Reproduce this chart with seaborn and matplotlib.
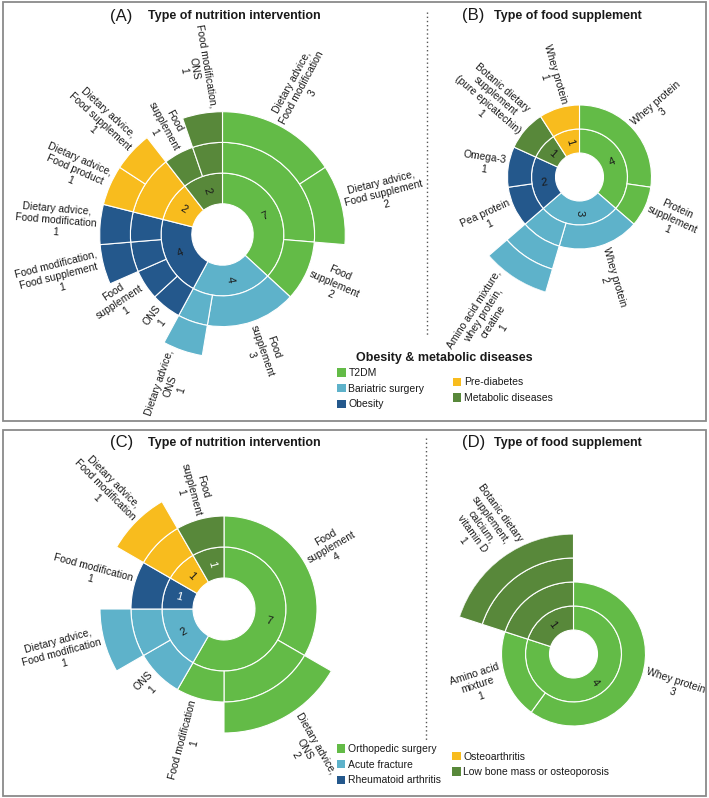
import numpy as np
import matplotlib
matplotlib.use("Agg")
import matplotlib.pyplot as plt
from matplotlib.patches import Rectangle, Patch
from matplotlib.lines import Line2D
import seaborn as sns

sns.set_theme(style="white")
plt.rcParams['font.family'] = ['Liberation Sans', 'DejaVu Sans']

W, H = 709, 798

# colours of the five groups (same order in both halves)
green, light_blue, dark_blue, yellow, dark_green = sns.color_palette(
    ["#63bb47", "#5eb2ca", "#24588c", "#f8bc1e", "#58883a"])

# ---- (A) type of nutrition intervention, obesity & metabolic diseases
a_disease = ["T2DM", "T2DM", "T2DM", "Bariatric surgery", "Bariatric surgery",
             "Obesity", "Obesity", "Obesity", "Obesity",
             "Pre-diabetes", "Pre-diabetes", "Metabolic diseases", "Metabolic diseases"]
a_path = [("Dietary advice", "Food modification"), ("Dietary advice", "Food supplement"),
          ("Food supplement",), ("Food supplement",), ("Dietary advice", "ONS"),
          ("ONS",), ("Food supplement",), ("Food modification", "Food supplement"),
          ("Dietary advice", "Food modification"),
          ("Dietary advice", "Food product"), ("Dietary advice", "Food supplement"),
          ("Food supplement",), ("Food modification", "ONS")]
a_count = [3, 2, 2, 3, 1, 1, 1, 1, 1, 1, 1, 1, 1]
a_label = ["Dietary advice,\nFood modification\n3", "Dietary advice,\nFood supplement\n2",
           "Food\nsupplement\n2", "Food\nsupplement\n3", "Dietary advice,\nONS\n1",
           "ONS\n1", "Food\nsupplement\n1", "Food modification,\nFood supplement\n1",
           "Dietary advice,\nFood modification\n1",
           "Dietary advice,\nFood product\n1", "Dietary advice,\nFood supplement\n1",
           "Food\nsupplement\n1", "Food modification,\nONS\n1"]

# ---- (B) type of food supplement, obesity & metabolic diseases
b_disease = ["T2DM", "T2DM", "Bariatric surgery", "Bariatric surgery", "Obesity", "Obesity",
             "Metabolic diseases", "Pre-diabetes"]
b_path = [("Whey protein",), ("Protein supplement",), ("Whey protein",),
          ("Amino acid mixture", "whey protein", "creatine"), ("Pea protein",), ("Omega-3",),
          ("Botanic dietary supplement",), ("Whey protein",)]
b_count = [3, 1, 2, 1, 1, 1, 1, 1]
b_label = ["Whey protein\n3", "Protein\nsupplement\n1", "Whey protein\n2",
           "Amino acid mixture,\nwhey protein,\ncreatine\n1", "Pea protein\n1", "Omega-3\n1",
           "Botanic dietary\nsupplement\n(pure epicatechin)\n1", "Whey protein\n1"]

# ---- (C) type of nutrition intervention, musculoskeletal
c_disease = ["Orthopedic surgery", "Orthopedic surgery", "Orthopedic surgery",
             "Acute fracture", "Acute fracture", "Rheumatoid arthritis", "Osteoarthritis",
             "Low bone mass or osteoporosis"]
c_path = [("Food supplement",), ("Dietary advice", "ONS"), ("Food modification",),
          ("ONS",), ("Dietary advice", "Food modification"), ("Food modification",),
          ("Dietary advice", "Food modification"), ("Food supplement",)]
c_count = [4, 2, 1, 1, 1, 1, 1, 1]
c_label = ["Food\nsupplement\n4", "Dietary advice,\nONS\n2", "Food modification\n1",
           "ONS\n1", "Dietary advice,\nFood modification\n1", "Food modification\n1",
           "Dietary advice,\nFood modification\n1", "Food\nsupplement\n1"]

# ---- (D) type of food supplement, musculoskeletal
d_disease = ["Orthopedic surgery", "Orthopedic surgery", "Low bone mass or osteoporosis"]
d_path = [("Whey protein",), ("Amino acid mixture",),
          ("Botanic dietary supplement", "calcium", "vitamin D")]
d_count = [3, 1, 1]
d_label = ["Whey protein\n3", "Amino acid\nmixture\n1",
           "Botanic dietary\nsupplement,\ncalcium,\nvitamin D\n1"]

top_groups = ["T2DM", "Bariatric surgery", "Obesity", "Pre-diabetes", "Metabolic diseases"]
bottom_groups = ["Orthopedic surgery", "Acute fracture", "Rheumatoid arthritis",
                 "Osteoarthritis", "Low bone mass or osteoporosis"]
group_colors = [green, light_blue, dark_blue, yellow, dark_green]
palette = dict(zip(top_groups, group_colors))
palette.update(dict(zip(bottom_groups, group_colors)))

fig = plt.figure(figsize=(W / 100, H / 100), dpi=100)


def fx(x):
    return x / W


def fy(y):
    return 1 - y / H


def sunburst(cx, cy, unit, disease, path, count, label, white_nums=()):
    R = 5
    ax = fig.add_axes([(cx - R * unit) / W, 1 - (cy + R * unit) / H,
                       2 * R * unit / W, 2 * R * unit / H], projection='polar')
    ax.set_theta_zero_location('N')
    ax.set_theta_direction(-1)
    ax.set_ylim(0, R)
    ax.set_axis_off()

    total = sum(count)
    scale = 2 * np.pi / total
    starts = np.concatenate([[0], np.cumsum(count)[:-1]])
    n_rings = max(len(p) for p in path) + 1

    def rot_of(theta):
        deg = np.degrees(theta)
        if deg <= 180:
            return 90 - deg, 'left'
        return 270 - deg, 'right'

    for ring in range(1, n_rings + 1):
        segs = []
        for i, (d, p) in enumerate(zip(disease, path)):
            if ring - 1 > len(p):
                continue
            key = (d,) + tuple(p[:ring - 1])
            if segs and segs[-1][0] == key and segs[-1][2] == starts[i]:
                segs[-1][2] += count[i]
            else:
                segs.append([key, starts[i], starts[i] + count[i]])
        for key, s, e in segs:
            ax.bar((s + e) / 2 * scale, 1, width=(e - s) * scale, bottom=ring,
                   color=palette[key[0]], edgecolor='white', linewidth=0.8)
            if ring == 1:
                th = (s + e) / 2 * scale
                rot, _ = rot_of(th)
                ax.text(th, 1.5, str(e - s), rotation=rot, rotation_mode='anchor',
                        ha='center', va='center', fontsize=8,
                        color='white' if key[0] in white_nums else '#1a1a1a')

    for i, p in enumerate(path):
        th = (starts[i] + count[i] / 2) * scale
        rot, ha = rot_of(th)
        ax.text(th, len(p) + 2 + 0.12, label[i], rotation=rot, rotation_mode='anchor',
                ha=ha, va='center', multialignment='center', fontsize=7.5, color='#1a1a1a')
    return ax


sunburst(222.5, 234.5, 30.7, a_disease, a_path, a_count, a_label)
sunburst(579.5, 177, 24, b_disease, b_path, b_count, b_label)
sunburst(224, 609, 31, c_disease, c_path, c_count, c_label,
         white_nums=("Rheumatoid arthritis", "Low bone mass or osteoporosis"))
sunburst(573.5, 654, 24, d_disease, d_path, d_count, d_label)

# panel frames and separators
for y0, y1 in [(2, 421), (430, 796)]:
    fig.patches.append(Rectangle((fx(2.5), fy(y1)), (706 - 2.5) / W, (y1 - y0) / H,
                                 transform=fig.transFigure, fill=False,
                                 edgecolor='#8a8a8a', lw=1.3))
fig.add_artist(Line2D([fx(427), fx(427)], [fy(12), fy(337)], transform=fig.transFigure,
                      ls=(0, (1, 2)), color='#555555', lw=1))
fig.add_artist(Line2D([fx(426), fx(426)], [fy(438), fy(740)], transform=fig.transFigure,
                      ls=(0, (1, 2)), color='#555555', lw=1))

# titles
for tag, title, x_tag, x_title, y in [("(A)", "Type of nutrition intervention", 110, 148, 16),
                                      ("(B)", "Type of food supplement", 462, 494, 15.5),
                                      ("(C)", "Type of nutrition intervention", 110, 148, 443),
                                      ("(D)", "Type of food supplement", 462, 494, 443)]:
    fig.text(fx(x_tag), fy(y), tag, fontsize=12, ha='left', va='center', color='#1a1a1a')
    fig.text(fx(x_title), fy(y), title, fontsize=9, fontweight='bold', ha='left',
             va='center', color='#1a1a1a')

# legends
fig.text(fx(356), fy(357.5), "Obesity & metabolic diseases", fontsize=9, fontweight='bold',
         ha='left', va='center', color='#1a1a1a')


def legend(names, x, y):
    handles = [Patch(facecolor=palette[n], edgecolor='none', label=n) for n in names]
    leg = fig.legend(handles=handles, loc='upper left', bbox_to_anchor=(fx(x), fy(y)),
                     frameon=False, fontsize=7.5, handlelength=0.85, handleheight=0.85,
                     handletextpad=0.25, labelspacing=0.55, borderpad=0, borderaxespad=0)
    for t in leg.get_texts():
        t.set_color('#1a1a1a')


legend(top_groups[:3], 337, 368)
legend(top_groups[3:], 452.5, 377.5)
legend(bottom_groups[:3], 336.5, 744)
legend(bottom_groups[3:], 452, 751.5)

fig.savefig("out.png", dpi=100)
